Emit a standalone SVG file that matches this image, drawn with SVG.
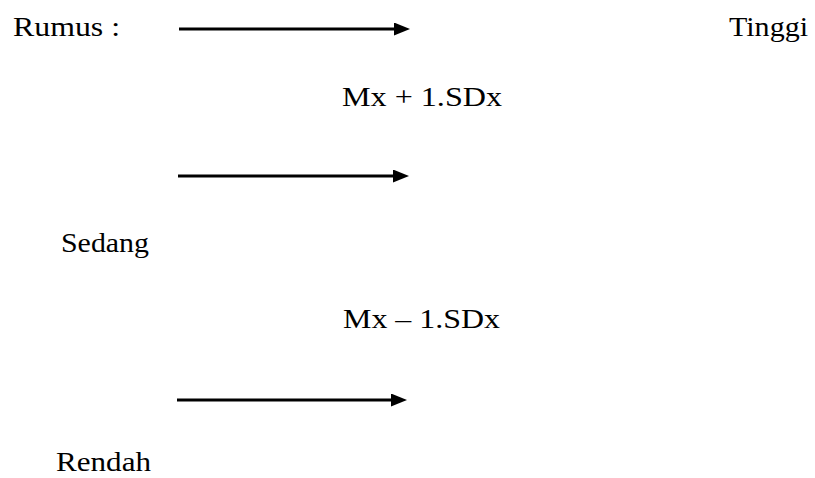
<svg xmlns="http://www.w3.org/2000/svg" width="815" height="478" viewBox="0 0 815 478">
  <style>
    .t { font-family: "Liberation Serif", "Times New Roman", serif; font-size: 28px; fill: #000; }
    .c { stroke: #000; stroke-width: 3; fill: none; }
  </style>
  <defs>
    <marker id="head" viewBox="0 0 16 13" refX="0" refY="6.5" markerWidth="16" markerHeight="13" markerUnits="userSpaceOnUse" orient="auto">
      <path d="M0,0 L16,6.5 L0,13 Z" fill="#000"/>
    </marker>
  </defs>
  <rect width="815" height="478" fill="#fff"/>

  <g id="connectors">
    <line class="c" x1="179" y1="29" x2="394" y2="29" marker-end="url(#head)"/>
    <line class="c" x1="178" y1="176" x2="393" y2="176" marker-end="url(#head)"/>
    <line class="c" x1="177" y1="400" x2="391" y2="400" marker-end="url(#head)"/>
  </g>

  <g id="rumus"><text class="t" x="13" y="36" textLength="107" lengthAdjust="spacingAndGlyphs">Rumus :</text></g>
  <g id="tinggi"><text class="t" x="729" y="36" textLength="79" lengthAdjust="spacingAndGlyphs">Tinggi</text></g>
  <g id="batas-atas"><text class="t" x="342" y="106" textLength="160" lengthAdjust="spacingAndGlyphs">Mx + 1.SDx</text></g>
  <g id="sedang"><text class="t" x="61" y="252" textLength="88" lengthAdjust="spacingAndGlyphs">Sedang</text></g>
  <g id="batas-bawah"><text class="t" x="343" y="328" textLength="157" lengthAdjust="spacingAndGlyphs">Mx – 1.SDx</text></g>
  <g id="rendah"><text class="t" x="56" y="471" textLength="95" lengthAdjust="spacingAndGlyphs">Rendah</text></g>
</svg>
